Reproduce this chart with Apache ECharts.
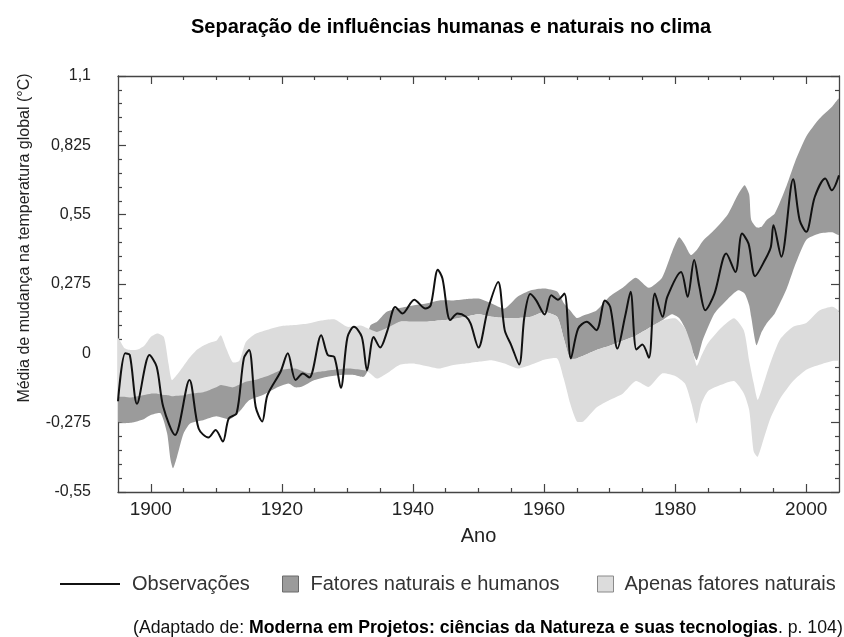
<!DOCTYPE html>
<html>
<head>
<meta charset="utf-8">
<title>Separação de influências humanas e naturais no clima</title>
<script src="https://cdn.jsdelivr.net/npm/echarts@6/dist/echarts.min.js"></script>
<style>
  html, body { margin: 0; padding: 0; background: #fff; }
  #chart { width: 844px; height: 637px; }
</style>
</head>
<body>
<div id="chart"></div>
<script>
// valores (anomalia em °C)
var obsYears = [1895, 1896.1, 1896.8, 1897.9, 1899.8, 1900.9, 1901.9, 1903.7, 1905.9, 1907.3, 1908.8, 1909.9, 1911, 1911.9, 1913.1, 1914.2, 1915, 1916, 1917, 1917.8, 1919.8, 1920.9, 1922.1, 1923.2, 1924.2, 1926, 1927, 1928, 1929, 1930, 1931, 1932.2, 1933, 1934, 1935, 1936.1, 1937.3, 1938.4, 1940.2, 1941.9, 1942.7, 1943.8, 1944.5, 1945.7, 1946.8, 1948.1, 1948.8, 1950, 1951.4, 1953, 1954, 1955, 1956.2, 1957, 1957.9, 1958.8, 1960.1, 1961.1, 1962.1, 1963.1, 1964.1, 1965.2, 1966.5, 1968, 1969.3, 1970.1, 1971.2, 1972.4, 1973.2, 1974.1, 1975, 1976, 1976.9, 1978.1, 1978.8, 1980.9, 1981.9, 1982.9, 1983.7, 1984.6, 1986, 1987.8, 1989.2, 1990.2, 1991.2, 1992.2, 1993.7, 1994.6, 1995, 1996.2, 1998, 1999, 2000, 2001.3, 2002.9, 2003.9, 2005];
var obsValues = [-0.19, 0.0, -0.007, -0.2, -0.007, -0.053, -0.212, -0.324, -0.106, -0.298, -0.334, -0.304, -0.35, -0.258, -0.238, -0.02, 0.013, -0.212, -0.27, -0.166, -0.073, 0.0, -0.106, -0.08, -0.096, 0.072, -0.007, -0.014, -0.137, 0.063, 0.105, 0.065, -0.068, 0.065, 0.023, 0.09, 0.184, 0.158, 0.213, 0.178, 0.19, 0.332, 0.297, 0.132, 0.158, 0.145, 0.118, 0.023, 0.171, 0.283, 0.092, 0.032, -0.044, 0.145, 0.235, 0.21, 0.154, 0.23, 0.213, 0.237, -0.02, 0.098, 0.125, 0.092, 0.21, 0.184, 0.019, 0.151, 0.244, 0.015, 0.035, -0.018, 0.237, 0.145, 0.224, 0.323, 0.224, 0.37, 0.264, 0.171, 0.237, 0.396, 0.323, 0.475, 0.435, 0.306, 0.37, 0.422, 0.508, 0.383, 0.69, 0.528, 0.482, 0.62, 0.693, 0.647, 0.706];

// faixa "Fatores naturais e humanos"
var darkYears = [1895, 1897, 1899, 1900, 1901.5, 1902.5, 1903, 1903.4, 1904, 1905, 1906, 1908, 1910, 1912, 1913.5, 1915, 1917, 1919, 1921, 1922, 1923, 1925, 1927, 1929, 1931, 1932.5, 1933.5, 1934.5, 1936, 1938, 1940, 1942, 1944, 1946, 1948, 1950, 1952, 1954, 1956, 1958, 1960, 1962, 1963, 1964, 1965, 1966, 1968, 1970, 1972, 1974, 1976, 1978, 1979.5, 1980.6, 1981.5, 1982.4, 1983.3, 1984.2, 1986, 1988, 1989.6, 1990.6, 1991.3, 1991.6, 1992.4, 1993.1, 1994, 1995.2, 1997, 1998.3, 2000, 2002, 2004, 2005];
var darkLow = [-0.27, -0.275, -0.26, -0.245, -0.238, -0.318, -0.42, -0.456, -0.41, -0.318, -0.278, -0.265, -0.25, -0.262, -0.232, -0.186, -0.166, -0.139, -0.12, -0.135, -0.133, -0.106, -0.093, -0.086, -0.086, -0.093, -0.05, 0.0, 0.08, 0.125, 0.125, 0.125, 0.13, 0.135, 0.145, 0.155, 0.145, 0.14, 0.14, 0.145, 0.164, 0.145, 0.06, -0.025, -0.02, -0.01, 0.013, 0.03, 0.05, 0.07, 0.1, 0.13, 0.155, 0.14, 0.1, 0.026, -0.027, 0.052, 0.158, 0.215, 0.25, 0.237, 0.19, 0.145, 0.032, 0.079, 0.12, 0.158, 0.255, 0.35, 0.45, 0.475, 0.48, 0.47];
var darkHigh = [-0.14, -0.145, -0.135, -0.13, -0.13, -0.135, -0.14, -0.14, -0.14, -0.135, -0.13, -0.125, -0.105, -0.105, -0.095, -0.085, -0.07, -0.05, -0.03, -0.03, -0.04, -0.045, -0.04, -0.035, -0.03, 0.02, 0.11, 0.125, 0.165, 0.18, 0.19, 0.198, 0.21, 0.21, 0.215, 0.217, 0.198, 0.178, 0.225, 0.25, 0.257, 0.245, 0.2, 0.17, 0.14, 0.15, 0.17, 0.225, 0.26, 0.3, 0.26, 0.3, 0.4, 0.46, 0.43, 0.39, 0.41, 0.445, 0.49, 0.55, 0.63, 0.667, 0.63, 0.53, 0.5, 0.5, 0.53, 0.555, 0.665, 0.76, 0.86, 0.93, 0.98, 1.01];

// faixa "Apenas fatores naturais"
var lightYears = [1895, 1896, 1897, 1898, 1899, 1900, 1901, 1902, 1902.7, 1903.2, 1904, 1905, 1906, 1907, 1908, 1909, 1910, 1910.7, 1911.5, 1912.5, 1913.5, 1914.5, 1916, 1918, 1920, 1922, 1924, 1926, 1928, 1930, 1932, 1933, 1934.5, 1936, 1938, 1940, 1942, 1944, 1946, 1948, 1950, 1952, 1954, 1956, 1958, 1960, 1962, 1963, 1964, 1965, 1966, 1968, 1970, 1972, 1974, 1976, 1978, 1980, 1981.5, 1982.5, 1983.3, 1984, 1985, 1987, 1989, 1990.5, 1991.3, 1992, 1992.6, 1993.5, 1994.5, 1996, 1998, 2000, 2002, 2004, 2005];
var lightLow = [-0.17, -0.172, -0.175, -0.17, -0.165, -0.16, -0.16, -0.165, -0.166, -0.17, -0.168, -0.166, -0.16, -0.157, -0.154, -0.145, -0.135, -0.126, -0.13, -0.135, -0.125, -0.113, -0.105, -0.088, -0.065, -0.06, -0.078, -0.072, -0.065, -0.06, -0.065, -0.07, -0.1, -0.08, -0.045, -0.04, -0.05, -0.06, -0.047, -0.04, -0.033, -0.027, -0.04, -0.06, -0.045, -0.025, -0.02, -0.1, -0.2, -0.27, -0.27, -0.215, -0.185, -0.16, -0.11, -0.133, -0.08, -0.09, -0.12, -0.2, -0.278, -0.2, -0.15, -0.125, -0.11, -0.16, -0.225, -0.39, -0.41, -0.34, -0.26, -0.18, -0.11, -0.065, -0.045, -0.03, -0.027];
var lightHigh = [0.06, 0.02, 0.013, 0.015, 0.03, 0.065, 0.079, 0.065, -0.04, -0.106, -0.085, -0.05, -0.015, 0.013, 0.03, 0.042, 0.05, 0.072, 0.02, -0.035, -0.03, 0.045, 0.078, 0.095, 0.108, 0.112, 0.118, 0.13, 0.135, 0.105, 0.11, 0.1, 0.085, 0.1, 0.125, 0.125, 0.125, 0.13, 0.135, 0.145, 0.155, 0.145, 0.14, 0.14, 0.145, 0.164, 0.145, 0.06, -0.02, -0.02, -0.01, 0.013, 0.03, 0.05, 0.07, 0.1, 0.13, 0.139, 0.1, 0.03, -0.05, -0.01, 0.04, 0.1, 0.139, 0.09, -0.03, -0.12, -0.185, -0.12, -0.04, 0.055, 0.105, 0.12, 0.17, 0.185, 0.165];

// marcas dos eixos
var majorYears = [1900, 1920, 1940, 1960, 1980, 2000];
var minorYears = [1905, 1910, 1915, 1925, 1930, 1935, 1945, 1950, 1955, 1965, 1970, 1975, 1985, 1990, 1995];

var chart = echarts.init(document.getElementById('chart'));

function pairs(xs, ys) {
    var out = [];
    for (var i = 0; i < xs.length; i++) out.push([xs[i], ys[i]]);
    return out;
}
function triples(xs, lo, hi) {
    var out = [];
    for (var i = 0; i < xs.length; i++) out.push([xs[i], lo[i], hi[i]]);
    return out;
}

// faixa desenhada como um polígono: borda de cima e depois a de baixo, ao contrário
function bandRenderer(color) {
    return function (params, api) {
        if (params.dataIndex !== 0) return null;
        var n = params.dataInsideLength !== undefined ? api.value(0) : 0;
        var data = chart.getModel().getSeriesByIndex(params.seriesIndex).getData();
        var top = [], bottom = [];
        for (var i = 0; i < data.count(); i++) {
            var x = data.get('x', i);
            top.push(api.coord([x, data.get('high', i)]));
            bottom.unshift(api.coord([x, data.get('low', i)]));
        }
        return {
            type: 'polygon',
            shape: { points: top.concat(bottom), smooth: 0.2 },
            style: { fill: color, stroke: null }
        };
    };
}

var FONT = '"Liberation Sans", Arial, sans-serif';
var AXIS = '#444';
var DARK = '#9b9b9b';
var LIGHT = '#dcdcdc';

function xAx(pos, vals, len, line, extra) {
    var a = {
        type: 'value', position: pos, min: 1895, max: 2005,
        axisLine: { show: line, onZero: false, lineStyle: { color: AXIS, width: 1.3 } },
        axisTick: { show: true, inside: true, length: len, customValues: vals, lineStyle: { color: AXIS, width: 1.2 } },
        axisLabel: { show: false },
        splitLine: { show: false }
    };
    return Object.assign(a, extra || {});
}
function yAx(pos, labels) {
    return {
        type: 'value', position: pos, min: -0.55, max: 1.1, interval: 0.275,
        axisLine: { show: true, onZero: false, lineStyle: { color: AXIS, width: 1.3 } },
        axisTick: { show: true, inside: true, length: 8, lineStyle: { color: AXIS, width: 1.2 } },
        minorTick: { show: true, splitNumber: 5, length: 4, lineStyle: { color: AXIS, width: 1.2 } },
        axisLabel: {
            show: labels, margin: 27, fontSize: 16, fontFamily: FONT, color: '#222',
            formatter: function (v) { return String(Math.round(v * 1000) / 1000).replace('.', ','); }
        },
        splitLine: { show: false }
    };
}

var option = {
    animation: false,
    title: {
        text: 'Separação de influências humanas e naturais no clima',
        left: 191, top: 17, padding: 0,
        textStyle: { fontSize: 20, fontWeight: 'bold', fontFamily: FONT, color: '#000' }
    },
    grid: { left: 118, right: 5, top: 76, bottom: 145, containLabel: false },
    legend: [
        {
            data: ['Observações'], left: 60, top: 574, padding: 0, selectedMode: false,
            icon: 'rect', itemWidth: 60, itemHeight: 2,
            textStyle: { fontSize: 20, fontFamily: FONT, color: '#333', padding: [0, 0, 0, 7] }
        },
        {
            data: [{ name: 'Fatores naturais e humanos', itemStyle: { color: DARK, borderColor: '#6a6a6a', borderWidth: 1 } }],
            left: 282, top: 574, padding: 0, selectedMode: false,
            icon: 'rect', itemWidth: 16, itemHeight: 16,
            textStyle: { fontSize: 20, fontFamily: FONT, color: '#333', padding: [0, 0, 0, 7] }
        },
        {
            data: [{ name: 'Apenas fatores naturais', itemStyle: { color: LIGHT, borderColor: '#8a8a8a', borderWidth: 1 } }],
            left: 597, top: 574, padding: 0, selectedMode: false,
            icon: 'rect', itemWidth: 16, itemHeight: 16,
            textStyle: { fontSize: 20, fontFamily: FONT, color: '#333', padding: [0, 0, 0, 6] }
        }
    ],
    xAxis: [
        xAx('bottom', majorYears, 8, true, {
            axisLabel: {
                show: true, customValues: majorYears, margin: 8, fontSize: 19, fontFamily: FONT, color: '#222',
                formatter: function (v) { return String(v); }
            },
            name: 'Ano', nameLocation: 'middle', nameGap: 34,
            nameTextStyle: { fontSize: 20, fontFamily: FONT, color: '#222' }
        }),
        xAx('bottom', minorYears, 4, false),
        xAx('top', majorYears, 8, true),
        xAx('top', minorYears, 4, false)
    ],
    yAxis: [yAx('left', true), yAx('right', false)],
    graphic: [
        {
            type: 'text', x: 25, y: 238, rotation: Math.PI / 2,
            style: {
                text: 'Média de mudança na temperatura global (°C)',
                fontSize: 16, fontFamily: FONT, fill: '#222', align: 'center', verticalAlign: 'middle'
            }
        },
        {
            type: 'text', x: 133, y: 628,
            style: {
                text: '{n|(Adaptado de: }{b|Moderna em Projetos: ciências da Natureza e suas tecnologias}{n|. p. 104)}',
                verticalAlign: 'middle',
                rich: {
                    n: { fontSize: 17.7, fontFamily: FONT, fill: '#111' },
                    b: { fontSize: 17.7, fontFamily: FONT, fontWeight: 'bold', fill: '#000' }
                }
            }
        }
    ],
    series: [
        {
            name: 'Fatores naturais e humanos', type: 'custom', color: DARK,
            data: triples(darkYears, darkLow, darkHigh),
            dimensions: ['x', 'low', 'high'], encode: { x: 0, y: [1, 2] },
            renderItem: bandRenderer(DARK), clip: true, silent: true, z: 2
        },
        {
            name: 'Apenas fatores naturais', type: 'custom', color: LIGHT,
            data: triples(lightYears, lightLow, lightHigh),
            dimensions: ['x', 'low', 'high'], encode: { x: 0, y: [1, 2] },
            renderItem: bandRenderer(LIGHT), clip: true, silent: true, z: 3
        },
        {
            name: 'Observações', type: 'line', data: pairs(obsYears, obsValues),
            symbol: 'none', smooth: 0.3, color: '#111', lineStyle: { color: '#111', width: 2 }, z: 5
        }
    ]
};
chart.setOption(option);
</script>
</body>
</html>
